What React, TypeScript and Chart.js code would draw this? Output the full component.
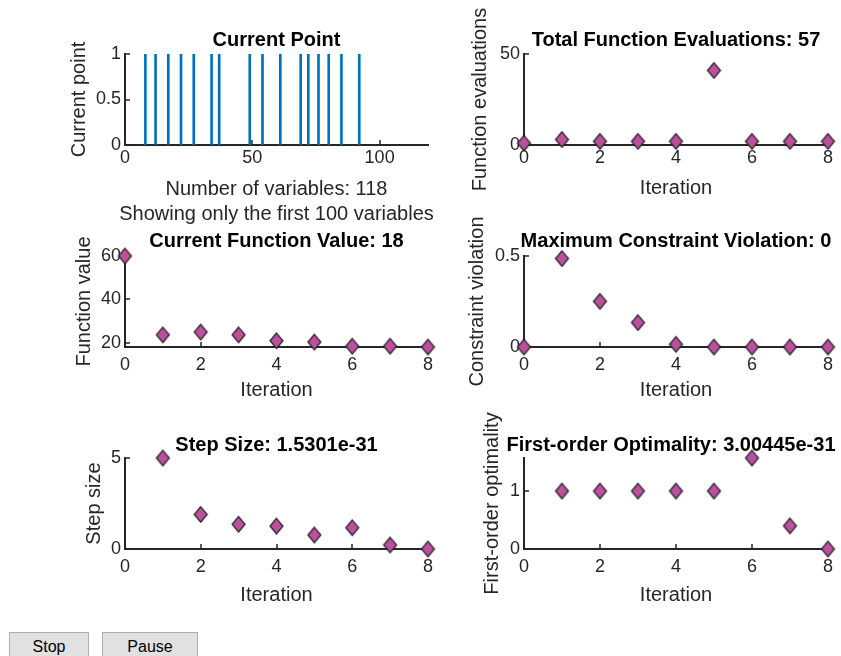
import React, { useEffect, useRef } from 'react';
import { Chart, registerables } from 'chart.js';

Chart.register(...registerables);

// Optimisation history, one entry per iteration
const iterations = [0, 1, 2, 3, 4, 5, 6, 7, 8];
const functionEvaluations = [1, 3, 2, 2, 2, 41, 2, 2, 2];
const functionValues = [60, 23.6, 24.9, 23.6, 20.9, 20.3, 18.4, 18.4, 18];
const constraintViolations = [0, 0.486, 0.251, 0.134, 0.015, 0, 0, 0, 0];
const stepSizes = [null, 5, 1.9, 1.36, 1.26, 0.77, 1.17, 0.22, 0];
const firstOrderOptimality = [null, 1, 1, 1, 1, 1, 1.57, 0.4, 0];

// Current point: indices of the non-zero variables and their values
const currentPointIndices = [8, 12, 17, 22, 27, 34, 37, 49, 54, 61, 69, 72, 76, 80, 85, 92];
const currentPointValues = [1, 1, 1, 1, 1, 1, 1, 1, 1, 1, 1, 1, 1, 1, 1, 1];
const variableAxisMax = 119;

// Tick values
const variableTicks = [0, 50, 100];
const pointTicks = [0, 0.5, 1];
const iterationTicks = [0, 2, 4, 6, 8];
const evaluationTicks = [0, 50];
const valueTicks = [20, 40, 60];
const violationTicks = [0, 0.5];
const stepTicks = [0, 5];
const optimalityTicks = [0, 1];

const FONT = '"Liberation Sans", Arial, Helvetica, sans-serif';
const AXIS_COLOR = '#262626';
const TEXT_COLOR = '#262626';
const TITLE_COLOR = '#000000';
const MARKER_FILL = '#bd4f9f';
const MARKER_EDGE = '#222222';
const STEM_COLOR = '#0072bd';
const AXIS_W = 50;
const AXIS_H = 40;

type Box = { x: number; y: number; w: number; h: number };
type Area = { left: number; top: number; right: number; bottom: number };
type Decor = {
  title: string;
  titleX?: number;
  titleY: number;
  xLabel: string[];
  xLabelY: number;
  yLabel: string;
  yLabelX: number;
};

// Canvas placement of each subplot and the pixel rectangle of its axes
const PANELS: { box: Box; area: Area }[] = [
  { box: { x: 55, y: 0, w: 405, h: 228 }, area: { left: 125, top: 54, right: 428, bottom: 145 } },
  { box: { x: 460, y: 0, w: 381, h: 205 }, area: { left: 524, top: 54, right: 828, bottom: 145 } },
  { box: { x: 55, y: 228, w: 405, h: 182 }, area: { left: 125, top: 256, right: 428, bottom: 347 } },
  { box: { x: 460, y: 205, w: 381, h: 200 }, area: { left: 524, top: 256, right: 828, bottom: 347 } },
  { box: { x: 55, y: 410, w: 405, h: 210 }, area: { left: 125, top: 458, right: 428, bottom: 549 } },
  { box: { x: 460, y: 405, w: 381, h: 215 }, area: { left: 524, top: 458, right: 828, bottom: 549 } },
];

function makeDiamond(): HTMLCanvasElement {
  const c = document.createElement('canvas');
  c.width = 17;
  c.height = 19;
  const g = c.getContext('2d')!;
  g.beginPath();
  g.moveTo(8.5, 1.8);
  g.lineTo(15, 9.5);
  g.lineTo(8.5, 17.2);
  g.lineTo(2, 9.5);
  g.closePath();
  g.fillStyle = MARKER_FILL;
  g.fill();
  g.lineWidth = 1.2;
  g.strokeStyle = MARKER_EDGE;
  g.stroke();
  return c;
}

// Inward tick marks plus title and axis labels, MATLAB style
function axesDecor(box: Box, d: Decor) {
  return {
    id: 'axesDecor',
    beforeDatasetsDraw(chart: any) {
      const { ctx, chartArea: a } = chart;
      const xs = chart.scales.x;
      const ys = chart.scales.y;
      ctx.save();
      ctx.strokeStyle = AXIS_COLOR;
      ctx.lineWidth = 1.5;
      ctx.beginPath();
      xs.ticks.forEach((t: any) => {
        const p = Math.round(xs.getPixelForValue(t.value));
        ctx.moveTo(p, a.bottom);
        ctx.lineTo(p, a.bottom - 5);
      });
      ys.ticks.forEach((t: any) => {
        const p = Math.round(ys.getPixelForValue(t.value));
        ctx.moveTo(a.left, p);
        ctx.lineTo(a.left + 5, p);
      });
      ctx.stroke();
      ctx.restore();
    },
    afterDraw(chart: any) {
      const { ctx, chartArea: a } = chart;
      const cx = (a.left + a.right) / 2;
      ctx.save();
      ctx.textBaseline = 'middle';
      ctx.textAlign = 'center';

      ctx.fillStyle = TITLE_COLOR;
      ctx.font = `bold 20px ${FONT}`;
      ctx.fillText(d.title, d.titleX !== undefined ? d.titleX - box.x : cx, d.titleY - box.y);

      ctx.fillStyle = TEXT_COLOR;
      ctx.font = `20px ${FONT}`;
      d.xLabel.forEach((line, i) => {
        ctx.fillText(line, cx, d.xLabelY - box.y + i * 25);
      });

      ctx.translate(d.yLabelX - box.x, (a.top + a.bottom) / 2);
      ctx.rotate(-Math.PI / 2);
      ctx.fillText(d.yLabel, 0, 0);
      ctx.restore();
    },
  };
}

function axisOptions(min: number, max: number, ticks: number[], pad: number, horizontal: boolean) {
  return {
    type: 'linear',
    min,
    max,
    offset: false,
    afterBuildTicks: (s: any) => {
      s.ticks = ticks.map((value) => ({ value }));
    },
    afterFit: (s: any) => {
      if (horizontal) s.height = AXIS_H;
      else s.width = AXIS_W;
    },
    grid: { offset: false, drawOnChartArea: false, drawTicks: false, color: 'rgba(0,0,0,0)' },
    border: { display: true, color: AXIS_COLOR, width: 2 },
    ticks: {
      padding: pad,
      color: TEXT_COLOR,
      font: { family: FONT, size: 18, lineHeight: 1.2 },
      autoSkip: false,
      maxRotation: 0,
      callback: (v: any) => String(v),
    },
  };
}

function baseOptions(box: Box, area: Area, x: any, y: any) {
  return {
    animation: false,
    responsive: false,
    events: [],
    layout: {
      padding: {
        left: area.left - box.x - AXIS_W,
        top: area.top - box.y,
        right: box.x + box.w - area.right,
        bottom: box.y + box.h - area.bottom - AXIS_H,
      },
    },
    plugins: { legend: { display: false }, tooltip: { enabled: false }, title: { display: false } },
    scales: { x, y },
  };
}

function iterationChart(
  index: number,
  values: (number | null)[],
  yMin: number,
  yMax: number,
  yTicks: number[],
  tickPad: number,
  decor: Decor,
  diamond: HTMLCanvasElement,
) {
  const { box, area } = PANELS[index];
  const points = iterations
    .map((x, i) => ({ x, y: values[i] }))
    .filter((p) => p.y !== null);
  return {
    type: 'scatter',
    data: {
      datasets: [{ data: points, pointStyle: diamond, pointRadius: 7, clip: false }],
    },
    options: baseOptions(
      box,
      area,
      axisOptions(0, 8, iterationTicks, tickPad, true),
      axisOptions(yMin, yMax, yTicks, 4, false),
    ),
    plugins: [axesDecor(box, decor)],
  };
}

function currentPointChart() {
  const { box, area } = PANELS[0];
  return {
    type: 'bar',
    data: {
      datasets: [
        {
          data: currentPointIndices.map((x, i) => ({ x, y: currentPointValues[i] })),
          backgroundColor: STEM_COLOR,
          borderWidth: 0,
          barThickness: 2,
        },
      ],
    },
    options: baseOptions(
      box,
      area,
      axisOptions(0, variableAxisMax, variableTicks, 2, true),
      axisOptions(0, 1, pointTicks, 4, false),
    ),
    plugins: [
      axesDecor(box, {
        title: 'Current Point',
        titleY: 40,
        xLabel: ['Number of variables: 118', 'Showing only the first 100 variables'],
        xLabelY: 189,
        yLabel: 'Current point',
        yLabelX: 79,
      }),
    ],
  };
}

function buildConfigs(diamond: HTMLCanvasElement): any[] {
  return [
    currentPointChart(),
    iterationChart(1, functionEvaluations, 0, 50, evaluationTicks, 2, {
      title: 'Total Function Evaluations: 57',
      titleY: 40,
      xLabel: ['Iteration'],
      xLabelY: 188,
      yLabel: 'Function evaluations',
      yLabelX: 480.5,
    }, diamond),
    iterationChart(2, functionValues, 18, 60, valueTicks, 7, {
      title: 'Current Function Value: 18',
      titleY: 241.5,
      xLabel: ['Iteration'],
      xLabelY: 390.5,
      yLabel: 'Function value',
      yLabelX: 84.5,
    }, diamond),
    iterationChart(3, constraintViolations, 0, 0.5, violationTicks, 7, {
      title: 'Maximum Constraint Violation: 0',
      titleY: 241.5,
      xLabel: ['Iteration'],
      xLabelY: 390.5,
      yLabel: 'Constraint violation',
      yLabelX: 477.5,
    }, diamond),
    iterationChart(4, stepSizes, 0, 5, stepTicks, 7, {
      title: 'Step Size: 1.5301e-31',
      titleY: 445.5,
      xLabel: ['Iteration'],
      xLabelY: 595,
      yLabel: 'Step size',
      yLabelX: 94,
    }, diamond),
    iterationChart(5, firstOrderOptimality, 0, 1.57, optimalityTicks, 7, {
      title: 'First-order Optimality: 3.00445e-31',
      titleX: 671,
      titleY: 445.5,
      xLabel: ['Iteration'],
      xLabelY: 595,
      yLabel: 'First-order optimality',
      yLabelX: 492,
    }, diamond),
  ];
}

const buttonStyle: React.CSSProperties = {
  position: 'absolute',
  top: 632,
  height: 30,
  boxSizing: 'border-box',
  background: '#e1e1e1',
  border: '1px solid #adadad',
  borderRadius: 0,
  font: `16px ${FONT}`,
  color: '#000',
  padding: 0,
  margin: 0,
};

export default function App() {
  const r0 = useRef<HTMLCanvasElement>(null);
  const r1 = useRef<HTMLCanvasElement>(null);
  const r2 = useRef<HTMLCanvasElement>(null);
  const r3 = useRef<HTMLCanvasElement>(null);
  const r4 = useRef<HTMLCanvasElement>(null);
  const r5 = useRef<HTMLCanvasElement>(null);
  const refs = [r0, r1, r2, r3, r4, r5];

  useEffect(() => {
    const diamond = makeDiamond();
    const configs = buildConfigs(diamond);
    const charts = configs.map((cfg, i) => new Chart(refs[i].current as HTMLCanvasElement, cfg));
    return () => charts.forEach((c) => c.destroy());
  }, []);

  return (
    <div
      style={{
        position: 'absolute',
        left: 0,
        top: 0,
        width: 841,
        height: 656,
        overflow: 'hidden',
        background: '#ffffff',
      }}
    >
      {PANELS.map((p, i) => (
        <canvas
          key={i}
          ref={refs[i]}
          width={p.box.w}
          height={p.box.h}
          style={{ position: 'absolute', left: p.box.x, top: p.box.y, width: p.box.w, height: p.box.h }}
        />
      ))}
      <button style={{ ...buttonStyle, left: 9, width: 80 }}>Stop</button>
      <button style={{ ...buttonStyle, left: 102, width: 96 }}>Pause</button>
    </div>
  );
}
